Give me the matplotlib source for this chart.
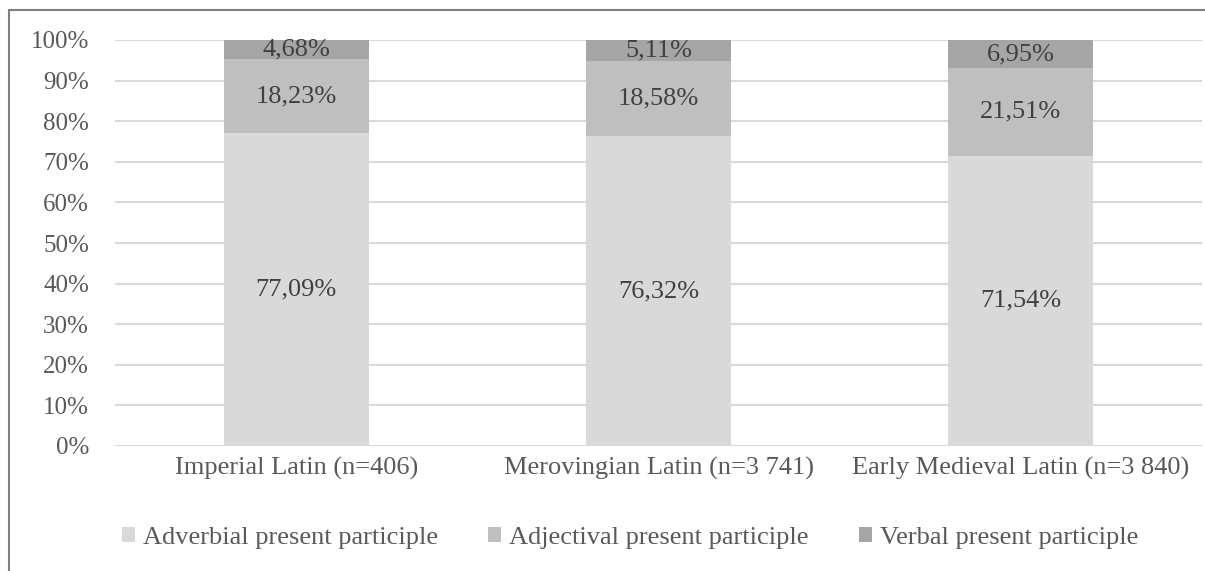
import matplotlib
matplotlib.use("Agg")
import matplotlib.pyplot as plt
from matplotlib.patches import Rectangle
import numpy as np

categories = ["Imperial Latin (n=406)", "Merovingian Latin (n=3 741)", "Early Medieval Latin (n=3 840)"]
series_names = ["Adverbial present participle", "Adjectival present participle", "Verbal present participle"]
adverbial = [77.09, 76.32, 71.54]
adjectival = [18.23, 18.58, 21.51]
verbal = [4.68, 5.11, 6.95]
colors = ["#d9d9d9", "#bfbfbf", "#a5a5a5"]
yticks = [0, 10, 20, 30, 40, 50, 60, 70, 80, 90, 100]

plt.rcParams['font.family'] = ['Liberation Serif', 'DejaVu Serif']
txt = "#595959"
fs = 19

fig = plt.figure(figsize=(12.05, 5.71), dpi=100)
ax = fig.add_axes([115/1205, 125/571, (1202-115)/1205, (446-40)/571])

x = np.arange(len(categories))
bottom = np.zeros(len(categories))
for name, vals, c in zip(series_names, [adverbial, adjectival, verbal], colors):
    vals = np.array(vals)
    ax.bar(x, vals, 0.4, bottom=bottom, color=c, label=name, zorder=3)
    for xi, b, v in zip(x, bottom, vals):
        ax.text(xi, b + v / 2, f"{v:.2f}".replace(".", ",") + "%", ha="center", va="center",
                fontsize=fs, color="#404040", zorder=4)
    bottom += vals

ax.set_xlim(-0.5, len(categories) - 0.5)
ax.set_ylim(0, 100)
ax.set_yticks(yticks)
ax.set_yticklabels([f"{t}%" for t in yticks], fontsize=18, color=txt)
ax.set_xticks(x)
ax.set_xticklabels(categories, fontsize=fs, color=txt)
ax.tick_params(axis="both", length=0)
ax.tick_params(axis="y", pad=18.7)
ax.tick_params(axis="x", pad=8)
ax.grid(axis="y", color="#d9d9d9", linewidth=1.5, zorder=0)
for s in ax.spines.values():
    s.set_visible(False)

leg = fig.legend(loc="center", bbox_to_anchor=(0.523, 1 - 538/571), ncol=3, frameon=False,
                 fontsize=fs, handlelength=0.5, handleheight=0.5, handletextpad=0.3,
                 columnspacing=1.9)
for t in leg.get_texts():
    t.set_color(txt)

fig.patches.append(Rectangle((9/1205, -0.1), 2, (571-10)/571 + 0.1, transform=fig.transFigure,
                             fill=False, edgecolor="#7f7f7f", linewidth=1.5))

fig.savefig("out.png", dpi=100)
